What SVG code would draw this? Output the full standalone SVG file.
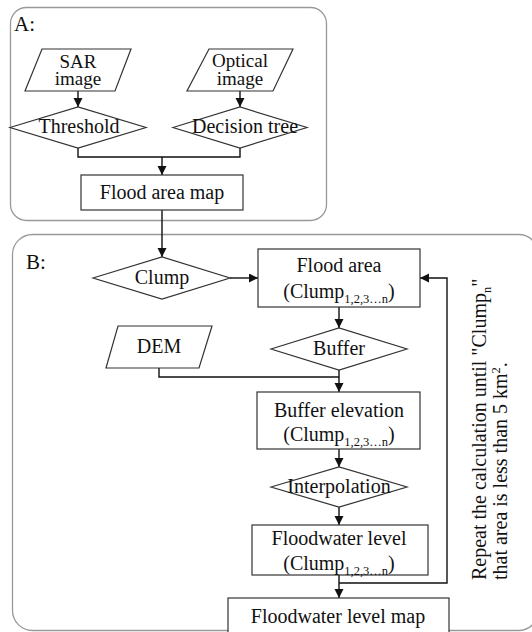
<svg xmlns="http://www.w3.org/2000/svg" width="532" height="632" viewBox="0 0 532 632">
<style>
text{font-family:'Liberation Serif','DejaVu Serif','Times New Roman',serif;font-size:20px;fill:#111;text-anchor:middle}
.lab{font-size:21px;text-anchor:start}
.two{font-size:19px}
.shape{fill:#fff;stroke:#333;stroke-width:1.2}
.cont{fill:#fff;stroke:#999;stroke-width:1.3}
.con{fill:none;stroke:#111;stroke-width:1.4}
.sub{font-size:12.5px}
</style>
<defs>
<marker id="ah" markerUnits="userSpaceOnUse" markerWidth="10" markerHeight="10" refX="9" refY="4.5" orient="auto">
<path d="M0,0 L9,4.5 L0,9 z" fill="#111"/>
</marker>
</defs>
<rect width="532" height="632" fill="#fff"/>
<g id="containerA"><rect class="cont" x="10.5" y="7.5" width="316" height="213" rx="16"/><text class="lab" x="14" y="31">A:</text></g>
<g id="containerB"><rect class="cont" x="12.5" y="234.5" width="526" height="396" rx="20"/><text class="lab" x="26" y="269">B:</text></g>
<g id="connectors">
<line class="con" x1="78" y1="91" x2="78" y2="107" marker-end="url(#ah)"/>
<line class="con" x1="240" y1="91" x2="240" y2="107" marker-end="url(#ah)"/>
<polyline class="con" points="78,148 78,157 240,157 240,148"/>
<line class="con" x1="162" y1="157" x2="162" y2="175" marker-end="url(#ah)"/>
<line class="con" x1="162" y1="210" x2="162" y2="257" marker-end="url(#ah)"/>
<line class="con" x1="230" y1="278" x2="258" y2="278" marker-end="url(#ah)"/>
<line class="con" x1="339" y1="307" x2="339" y2="328" marker-end="url(#ah)"/>
<polyline class="con" points="159,368 159,377 339,377"/>
<line class="con" x1="339" y1="370" x2="339" y2="392" marker-end="url(#ah)"/>
<line class="con" x1="339" y1="449" x2="339" y2="467" marker-end="url(#ah)"/>
<line class="con" x1="339" y1="507" x2="339" y2="525" marker-end="url(#ah)"/>
<line class="con" x1="339" y1="575" x2="339" y2="598" marker-end="url(#ah)"/>
<polyline class="con" points="339,583 447,583 447,278 420,278" marker-end="url(#ah)"/>
</g>
<g id="sar"><polygon class="shape" points="42,49 131,49 115,91 25,91"/><text class="two" x="78" y="68">SAR</text><text class="two" x="78" y="85">image</text></g>
<g id="optical"><polygon class="shape" points="209,49 293,49 273,91 187,91"/><text class="two" x="240" y="67">Optical</text><text class="two" x="240" y="85">image</text></g>
<g id="threshold"><polygon class="shape" points="10,127.5 78,107 146,127.5 78,148"/><text x="79" y="133">Threshold</text></g>
<g id="decision"><polygon class="shape" points="173,127.5 240,107 307,127.5 240,148"/><text x="245" y="133">Decision tree</text></g>
<g id="floodmap"><rect class="shape" x="81" y="175" width="162" height="35"/><text x="162" y="199">Flood area map</text></g>
<g id="clump"><polygon class="shape" points="93,278 162,257 230,278 162,299"/><text x="162" y="284">Clump</text></g>
<g id="floodarea"><rect class="shape" x="258" y="249" width="162" height="58"/><text x="339" y="272">Flood area</text><text x="339" y="298">(Clump<tspan class="sub" dy="5">1,2,3…n</tspan><tspan dy="-5">)</tspan></text></g>
<g id="buffer"><polygon class="shape" points="271,349 339,328 407,349 339,370"/><text x="339" y="355">Buffer</text></g>
<g id="dem"><polygon class="shape" points="118,326 212,326 199,368 106,368"/><text x="159" y="353">DEM</text></g>
<g id="bufelev"><rect class="shape" x="257" y="392" width="163" height="57"/><text x="339" y="417">Buffer elevation</text><text x="339" y="441">(Clump<tspan class="sub" dy="5">1,2,3…n</tspan><tspan dy="-5">)</tspan></text></g>
<g id="interp"><polygon class="shape" points="271,487 339,467 407,487 339,507"/><text x="339" y="493">Interpolation</text></g>
<g id="fwlevel"><rect class="shape" x="252" y="525" width="176" height="50"/><text x="339" y="545">Floodwater level</text><text x="339" y="570">(Clump<tspan class="sub" dy="5">1,2,3…n</tspan><tspan dy="-5">)</tspan></text></g>
<g id="fwmap"><rect class="shape" x="228" y="598" width="221" height="40"/><text x="338" y="623">Floodwater level map</text></g>
<g id="note">
<text style="text-anchor:start" transform="translate(486,580) rotate(-90)">Repeat the calculation until "Clump<tspan class="sub" dy="5">n</tspan><tspan dy="-5">"</tspan></text>
<text style="text-anchor:start" transform="translate(507,580) rotate(-90)">that area is less than 5 km<tspan class="sub" dy="-7">2</tspan><tspan dy="7">.</tspan></text>
</g>
</svg>
